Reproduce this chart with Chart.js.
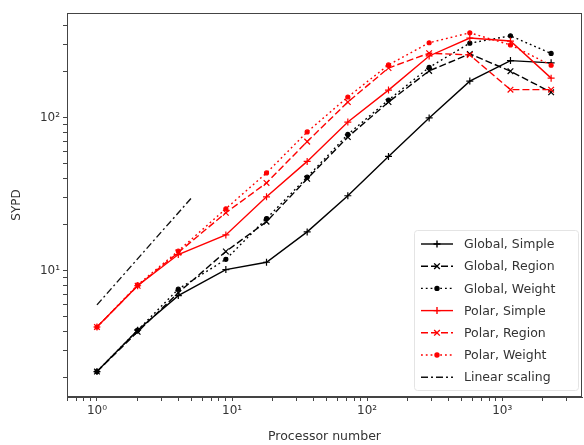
<!DOCTYPE html>
<html>
<head>
<meta charset="utf-8">
<script src="https://cdn.jsdelivr.net/npm/chart.js@4/dist/chart.umd.min.js"></script>
<style>
  html, body { margin: 0; padding: 0; background: #fff; }
  #wrap { width: 584px; height: 445px; }
</style>
</head>
<body>
<div id="wrap"><canvas id="c" width="584" height="445"></canvas></div>
<script>
// processor counts (x) and SYPD values
const procs = [1, 2, 4, 9, 18, 36, 72, 144, 288, 576, 1152, 2304];
const globalSimple = [2.2, 4.1, 6.9, 10.2, 11.4, 18, 31, 56, 100, 174, 237, 229];
const globalRegion = [2.2, 4.0, 7.2, 13.4, 21, 40, 75, 127, 203, 262, 202, 147];
const globalWeight = [2.2, 4.1, 7.6, 11.9, 22, 41, 78, 131, 214, 308, 344, 264];
const polarSimple = [4.3, 8.0, 12.8, 17.2, 30.5, 52, 94, 152, 254, 333, 318, 182];
const polarRegion = [4.3, 8.0, 13.2, 24, 37.6, 70, 127, 212, 265, 258, 153, 153];
const polarWeight = [4.3, 8.1, 13.5, 25.5, 43.7, 81, 137, 222, 310, 360, 300, 221];
const linearX = [1, 5];
const linearY = [6, 30];

const xMajor = [1, 10, 100, 1000];
const yMajor = [10, 100];
const supers = { 1: "10\u2070", 10: "10\u00b9", 100: "10\u00b2", 1000: "10\u00b3" };

function pts(xs, ys) {
  return xs.map((x, i) => ({ x: x, y: ys[i] }));
}

// minor + major tick values for a log axis between lo and hi
function logTicks(lo, hi) {
  const out = [];
  for (let e = -1; e <= 4; e++) {
    for (let m = 1; m <= 9; m++) {
      const v = m * Math.pow(10, e);
      if (v >= lo && v <= hi) out.push({ value: v, major: m === 1 });
    }
  }
  return out;
}

function ds(label, data, color, dash, style, radius, order) {
  return {
    label: label,
    data: data,
    borderColor: color,
    backgroundColor: color,
    borderWidth: 1.4,
    borderDash: dash,
    pointStyle: style,
    pointRadius: radius,
    pointBorderWidth: 1.2,
    pointBorderColor: color,
    pointBackgroundColor: color,
    fill: false,
    tension: 0,
    order: order
  };
}

const datasets = [
  ds("Global, Simple", pts(procs, globalSimple), "#000", [], "cross", 3.5, 7),
  ds("Global, Region", pts(procs, globalRegion), "#000", [7, 3], "crossRot", 4, 6),
  ds("Global, Weight", pts(procs, globalWeight), "#000", [1.8, 3], "circle", 2, 5),
  ds("Polar, Simple", pts(procs, polarSimple), "#ff0000", [], "cross", 3.5, 4),
  ds("Polar, Region", pts(procs, polarRegion), "#ff0000", [7, 3], "crossRot", 4, 3),
  ds("Polar, Weight", pts(procs, polarWeight), "#ff0000", [1.8, 3], "circle", 2, 2),
  ds("Linear scaling", pts(linearX, linearY), "#111", [7, 3, 2, 3], "circle", 0, 1)
];

// full frame round the plot area
const frame = {
  id: "frame",
  afterDraw(chart) {
    const a = chart.chartArea, ctx = chart.ctx;
    ctx.save();
    ctx.strokeStyle = "#444";
    ctx.lineWidth = 1;
    ctx.strokeRect(a.left + 0.5, a.top + 0.5, a.right - a.left - 1, a.bottom - a.top - 1);
    ctx.restore();
  }
};

// legend drawn inside the plot, lower right like matplotlib
const boxLegend = {
  id: "boxLegend",
  afterDraw(chart) {
    const ctx = chart.ctx;
    const bx = 414, by = 230, bw = 164, bh = 160;
    ctx.save();
    ctx.fillStyle = "rgba(255,255,255,0.85)";
    ctx.strokeStyle = "#e4e4e4";
    ctx.lineWidth = 1;
    ctx.beginPath();
    ctx.roundRect(bx + 0.5, by + 0.5, bw, bh, 3);
    ctx.fill();
    ctx.stroke();
    ctx.font = "12.5px 'DejaVu Sans'";
    ctx.textBaseline = "middle";
    chart.data.datasets.forEach((d, i) => {
      const y = 244 + i * 22.2;
      ctx.strokeStyle = d.borderColor;
      ctx.lineWidth = d.borderWidth;
      ctx.setLineDash(d.borderDash);
      ctx.beginPath();
      ctx.moveTo(421, y);
      ctx.lineTo(453, y);
      ctx.stroke();
      ctx.setLineDash([]);
      if (d.pointRadius > 0) {
        ctx.fillStyle = d.borderColor;
        ctx.strokeStyle = d.borderColor;
        Chart.helpers.drawPoint(ctx, {
          pointStyle: d.pointStyle,
          radius: d.pointRadius,
          borderWidth: d.pointBorderWidth,
          rotation: 0
        }, 437, y);
      }
      ctx.fillStyle = "#333";
      ctx.fillText(d.label, 464, y + 1);
    });
    ctx.restore();
  }
};

new Chart(document.getElementById("c"), {
  type: "line",
  data: { datasets: datasets },
  plugins: [frame, boxLegend],
  options: {
    responsive: false,
    animation: false,
    layout: { autoPadding: false, padding: { top: 13, right: 2, left: 0, bottom: 0 } },
    plugins: { legend: { display: false }, tooltip: { enabled: false } },
    scales: {
      x: {
        type: "logarithmic",
        min: 0.6,
        max: 3900,
        border: { color: "#444" },
        grid: { drawOnChartArea: false, drawTicks: true, tickLength: 4, color: "#444" },
        afterBuildTicks: (scale) => { scale.ticks = logTicks(0.6, 3900); },
        afterFit: (scale) => { scale.height = 48; scale.paddingRight = 0; scale.paddingLeft = 0; },
        ticks: {
          autoSkip: false,
          maxRotation: 0,
          padding: 3,
          color: "#333",
          font: { family: "DejaVu Sans", size: 12 },
          callback: (v) => (xMajor.includes(v) ? supers[v] : "")
        },
        title: {
          display: true,
          text: "Processor number",
          color: "#333",
          font: { family: "DejaVu Sans", size: 12.5 },
          padding: { top: 0, bottom: 1 }
        }
      },
      y: {
        type: "logarithmic",
        min: 1.5,
        max: 485,
        border: { color: "#444" },
        grid: { drawOnChartArea: false, drawTicks: true, tickLength: 4, color: "#444" },
        afterBuildTicks: (scale) => { scale.ticks = logTicks(1.5, 485); },
        afterFit: (scale) => { scale.width = 67; scale.paddingTop = 0; scale.paddingBottom = 0; },
        ticks: {
          autoSkip: false,
          padding: 3,
          color: "#333",
          font: { family: "DejaVu Sans", size: 12 },
          callback: (v) => (yMajor.includes(v) ? supers[v] : "")
        },
        title: {
          display: true,
          text: "SYPD",
          color: "#333",
          font: { family: "DejaVu Sans", size: 12 },
          padding: { top: 10, bottom: 0 }
        }
      }
    }
  }
});
</script>
</body>
</html>
